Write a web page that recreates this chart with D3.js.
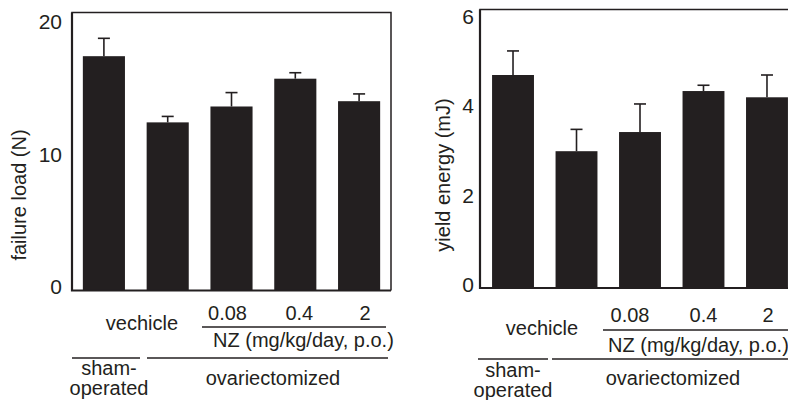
<!DOCTYPE html>
<html>
<head>
<meta charset="utf-8">
<script src="https://cdn.jsdelivr.net/npm/d3@7"></script>
<style>
	body { margin: 0; background: #fff; }
	svg { display: block; font-family: "Liberation Sans", Arial, sans-serif; }
</style>
</head>
<body>
<div id="chart"></div>
<script>
'use strict';

// groups, left to right
const groups = ["sham", "vehicle", "NZ 0.08", "NZ 0.4", "NZ 2"];
const doseLabels = ["0.08", "0.4", "2"];

// failure load (N), mean and SE
const failureLoad = [17.7, 12.7, 13.9, 16.0, 14.3];
const failureLoadErr = [1.35, 0.45, 1.05, 0.45, 0.55];
const failureTicks = [0, 10, 20];

// yield energy (mJ), mean and SE
const yieldEnergy = [4.78, 3.07, 3.5, 4.42, 4.28];
const yieldEnergyErr = [0.54, 0.49, 0.63, 0.13, 0.5];
const yieldTicks = [0, 2, 4, 6];

const ink = "#231f20";

const svg = d3.select("#chart")
	.append("svg")
		.attr("width", 788)
		.attr("height", 400);

function drawPanel(o) {
	const x = d3.scaleBand()
		.domain(groups)
		.range([o.left, o.right])
		.paddingInner(0.34)
		.paddingOuter(o.padOuter);

	const y = d3.scaleLinear()
		.domain([0, o.max])
		.range([o.bottom, o.top]);

	const g = svg.append("g");

	// bars
	g.append("g")
		.selectAll("rect")
		.data(o.values)
		.join("rect")
			.attr("x", (d, i) => x(groups[i]))
			.attr("y", d => y(d))
			.attr("width", x.bandwidth())
			.attr("height", d => y(0) - y(d))
			.attr("fill", ink);

	// error bars (upper only)
	const eb = g.append("g")
		.attr("stroke", ink)
		.attr("stroke-width", 1.6);
	o.values.forEach((v, i) => {
		const cx = x(groups[i]) + x.bandwidth() / 2;
		eb.append("line")
			.attr("x1", cx).attr("x2", cx)
			.attr("y1", y(v)).attr("y2", y(v + o.errs[i]));
		eb.append("line")
			.attr("x1", cx - 6).attr("x2", cx + 6)
			.attr("y1", y(v + o.errs[i])).attr("y2", y(v + o.errs[i]));
	});

	// frame
	g.append("path")
		.attr("d", `M${o.left},${o.bottom}V${o.top}H${o.right}V${o.bottom}`)
		.attr("fill", "none")
		.attr("stroke", ink)
		.attr("stroke-width", 1.5);
	g.append("path")
		.attr("d", `M${o.left},${o.top}V${o.bottom}H${o.right}`)
		.attr("fill", "none")
		.attr("stroke", ink)
		.attr("stroke-width", 2.2);

	// y axis labels
	const yAxis = g.append("g")
		.attr("transform", `translate(${o.left},0)`)
		.call(d3.axisLeft(y)
			.tickValues(o.ticks)
			.tickFormat(d3.format("d"))
			.tickSize(0)
			.tickPadding(o.tickPad));
	yAxis.select(".domain").remove();
	yAxis.selectAll("text")
		.attr("font-size", 21)
		.attr("font-family", "Liberation Sans, Arial, sans-serif")
		.attr("fill", ink)
		.attr("dy", "0.15em");

	g.append("text")
		.attr("transform", `translate(${o.labelX},${o.labelY}) rotate(-90)`)
		.attr("text-anchor", "middle")
		.attr("dy", "0.35em")
		.attr("font-size", 20)
		.attr("fill", ink)
		.text(o.label);

	// group annotations under the axis
	const t = (tx, ty, s, anchor) => g.append("text")
		.attr("x", tx).attr("y", ty)
		.attr("text-anchor", anchor || "middle")
		.attr("dy", "0.35em")
		.attr("font-size", 20)
		.attr("fill", ink)
		.text(s);
	const hl = (x1, x2, yy) => g.append("line")
		.attr("x1", x1).attr("x2", x2)
		.attr("y1", yy).attr("y2", yy)
		.attr("stroke", ink)
		.attr("stroke-width", 1.5);

	const a = o.ann;
	t(a.vehX, a.vehY, "vechicle");
	doseLabels.forEach((s, i) => {
		t(x(groups[i + 2]) + x.bandwidth() / 2 + a.doseNudge[i], a.doseY, s);
	});
	hl(a.nzX1, a.nzX2, a.nzLineY);
	t(a.nzX, a.nzY, "NZ (mg/kg/day, p.o.)", "start");
	hl(a.shamX1, a.shamX2, a.groupLineY);
	hl(a.ovxX1, a.ovxX2, a.groupLineY);
	t(a.shamX, a.shamY, "sham-");
	t(a.shamX, a.shamY + 20, "operated");
	t(a.ovxX, a.ovxY, "ovariectomized");
}

drawPanel({
	values: failureLoad, errs: failureLoadErr, ticks: failureTicks,
	max: 21, left: 72, right: 391, top: 12.5, bottom: 290.5,
	padOuter: 0.17, tickPad: 10,
	label: "failure load (N)", labelX: 19, labelY: 195,
	ann: {
		vehX: 142, vehY: 323, doseY: 313, doseNudge: [-4, 4, 6],
		nzX1: 202, nzX2: 386, nzLineY: 327, nzX: 213, nzY: 340,
		shamX1: 72, shamX2: 140, ovxX1: 147, ovxX2: 388, groupLineY: 358,
		shamX: 109, shamY: 368, ovxX: 273, ovxY: 378
	}
});

drawPanel({
	values: yieldEnergy, errs: yieldEnergyErr, ticks: yieldTicks,
	max: 6.25, left: 480, right: 800, top: 9.5, bottom: 288,
	padOuter: 0.19, tickPad: 6,
	label: "yield energy (mJ)", labelX: 443, labelY: 175,
	ann: {
		vehX: 542, vehY: 328, doseY: 315, doseNudge: [-10, 0, 1],
		nzX1: 603, nzX2: 800, nzLineY: 330, nzX: 608, nzY: 345,
		shamX1: 478, shamX2: 548, ovxX1: 552, ovxX2: 800, groupLineY: 359,
		shamX: 513, shamY: 370, ovxX: 673, ovxY: 378
	}
});
</script>
</body>
</html>
